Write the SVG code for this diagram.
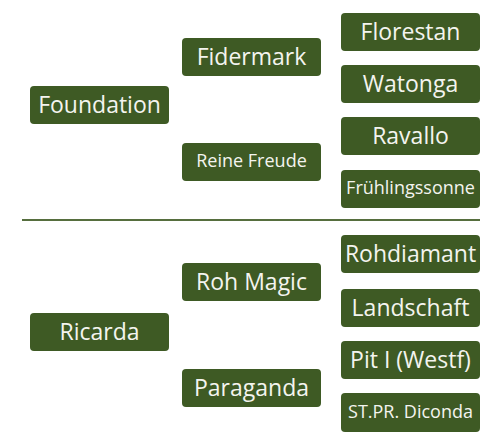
<svg xmlns="http://www.w3.org/2000/svg" width="493" height="443" viewBox="0 0 493 443">
<style>
.box{fill:#3e5a24;}
.t{font-family:"Open Sans","Noto Sans","Liberation Sans",sans-serif;fill:#f4f4ef;text-anchor:middle;}
.b{font-size:23px;}
.s{font-size:18px;}
</style>
<rect x="0" y="0" width="493" height="443" fill="#ffffff"/>
<g id="divider"><line x1="22" y1="220" x2="480" y2="220" stroke="#566e3e" stroke-width="2"/></g>
<g id="connectors"></g>
<g id="foundation"><rect class="box" x="30" y="86" width="139" height="38" rx="4"/><text class="t b" x="99.5" y="113">Foundation</text></g>
<g id="fidermark"><rect class="box" x="182" y="38" width="139" height="38" rx="4"/><text class="t b" x="251.5" y="64.5">Fidermark</text></g>
<g id="reine-freude"><rect class="box" x="182" y="143" width="139" height="38" rx="4"/><text class="t s" x="251.5" y="167">Reine Freude</text></g>
<g id="florestan"><rect class="box" x="341" y="13" width="139" height="38" rx="4"/><text class="t b" x="410.5" y="39.5">Florestan</text></g>
<g id="watonga"><rect class="box" x="341" y="65" width="139" height="38" rx="4"/><text class="t b" x="410.5" y="91.5">Watonga</text></g>
<g id="ravallo"><rect class="box" x="341" y="117" width="139" height="38" rx="4"/><text class="t b" x="410.5" y="143.5">Ravallo</text></g>
<g id="fruehlingssonne"><rect class="box" x="341" y="170" width="139" height="38" rx="4"/><text class="t s" x="410.5" y="194">Frühlingssonne</text></g>
<g id="ricarda"><rect class="box" x="30" y="313" width="139" height="38" rx="4"/><text class="t b" x="99.5" y="340">Ricarda</text></g>
<g id="roh-magic"><rect class="box" x="182" y="263" width="139" height="38" rx="4"/><text class="t b" x="251.5" y="289.5">Roh Magic</text></g>
<g id="paraganda"><rect class="box" x="182" y="369" width="139" height="38" rx="4"/><text class="t b" x="251.5" y="395.5">Paraganda</text></g>
<g id="rohdiamant"><rect class="box" x="341" y="235" width="139" height="38" rx="4"/><text class="t b" x="410.5" y="261.5">Rohdiamant</text></g>
<g id="landschaft"><rect class="box" x="341" y="289" width="139" height="38" rx="4"/><text class="t b" x="410.5" y="315.5">Landschaft</text></g>
<g id="pit-i-westf"><rect class="box" x="341" y="341" width="139" height="38" rx="4"/><text class="t b" x="410.5" y="367.5">Pit I (Westf)</text></g>
<g id="st-pr-diconda"><rect class="box" x="341" y="393" width="139" height="39" rx="4"/><text class="t s" x="410.5" y="417.5">ST.PR. Diconda</text></g>
</svg>
